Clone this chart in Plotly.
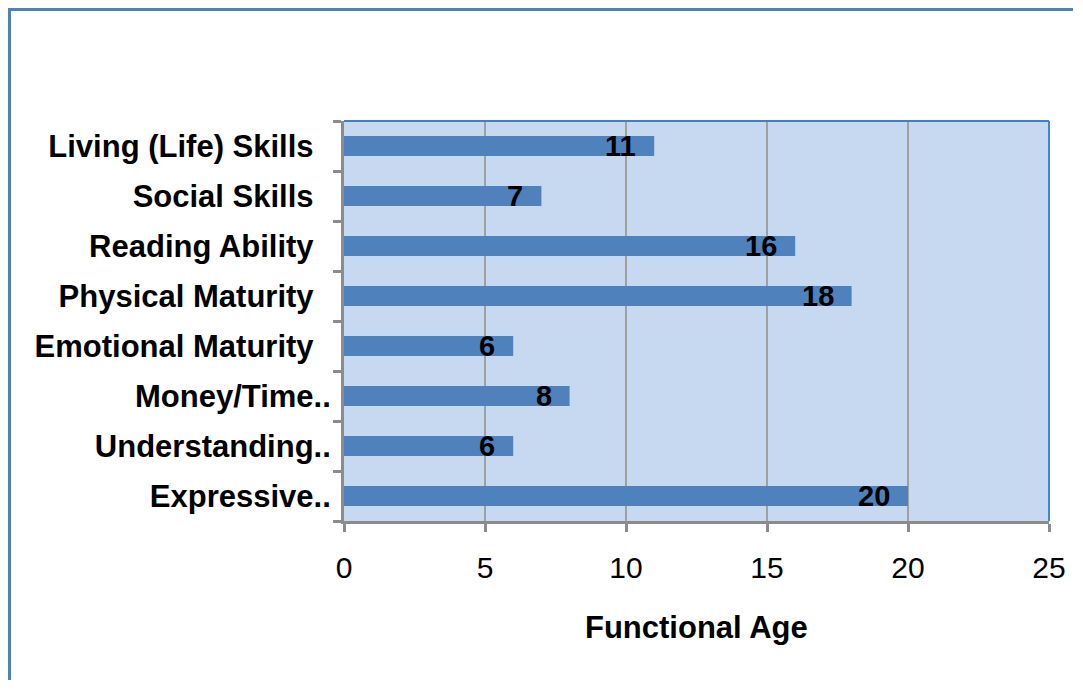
import plotly.graph_objects as go

categories = ["Living (Life) Skills", "Social Skills", "Reading Ability", "Physical Maturity",
              "Emotional Maturity", "Money/Time..", "Understanding..", "Expressive.."]
label_suffix = ["\u00a0\u00a0", "\u00a0\u00a0", "\u00a0\u00a0", "\u00a0\u00a0", "\u00a0\u00a0", "", "", ""]
values = [11, 7, 16, 18, 6, 8, 6, 20]
x_ticks = [0, 5, 10, 15, 20, 25]
x_title = "Functional Age"

FONT = "Liberation Sans, Arial, sans-serif"
OFF = 8  # page body margin
W, H = 1083 - 2 * OFF - 2, 694 - 2 * OFF - 6
L, R, T, B = 344 - OFF, 1049 - OFF, 121 - OFF, 521 - OFF
pw, ph = R - L, B - T

def px(x):
    return (x - L) / pw

def py(y):
    return (B - y) / ph

fig = go.Figure()
fig.add_trace(go.Bar(
    y=categories, x=values, orientation="h",
    marker=dict(color="#4F81BD", line=dict(width=0)),
    hoverinfo="skip",
))

annotations = []
for c, v in zip(categories, values):
    annotations.append(dict(x=v, y=c, xref="x", yref="y", text="<b>%d</b>" % v, showarrow=False,
                            xanchor="right", yanchor="middle", xshift=-16,
                            font=dict(family=FONT, size=29, color="black")))
annotations.append(dict(x=0.5, y=py(627 - OFF), xref="paper", yref="paper", text="<b>%s</b>" % x_title,
                        showarrow=False, xanchor="center", yanchor="middle",
                        font=dict(family=FONT, size=31, color="black")))

shapes = [
    # outer chart border (left and top edges visible)
    dict(type="line", xref="paper", yref="paper", x0=px(1.5), x1=px(1.5), y0=py(720), y1=py(1.5),
         line=dict(color="#4F81BD", width=3)),
    dict(type="line", xref="paper", yref="paper", x0=px(0), x1=px(1200), y0=py(1.5), y1=py(1.5),
         line=dict(color="#4F81BD", width=3)),
    # plot-area top and right border
    dict(type="line", xref="paper", yref="paper", x0=0, x1=1, y0=1, y1=1,
         line=dict(color="#3F7FCB", width=2)),
    dict(type="line", xref="paper", yref="paper", x0=1, x1=1, y0=0, y1=1,
         line=dict(color="#3F88D8", width=2)),
]

fig.update_layout(
    width=W, height=H,
    autosize=False,
    margin=dict(l=L, r=W - R, t=T, b=H - B, pad=0, autoexpand=False),
    paper_bgcolor="white",
    plot_bgcolor="#C6D9F0",
    bargap=0.6,
    showlegend=False,
    annotations=annotations,
    shapes=shapes,
    xaxis=dict(
        range=[0, 25], tickvals=x_ticks, ticktext=[str(t) for t in x_ticks],
        automargin=False,
        showgrid=True, gridcolor="#A0A0A0", gridwidth=1.5,
        showline=True, linecolor="#8C8C8C", linewidth=3,
        ticks="outside", ticklen=8, tickwidth=3, tickcolor="#8C8C8C",
        ticklabelstandoff=10,
        tickfont=dict(family=FONT, size=30, color="black"),
        zeroline=False, fixedrange=True,
    ),
    yaxis=dict(
        autorange="reversed",
        automargin=False,
        tickmode="array", tickvals=categories,
        ticktext=["<b>%s%s</b>" % (c, s) for c, s in zip(categories, label_suffix)],
        tickson="boundaries",
        showgrid=False,
        showline=True, linecolor="#8C8C8C", linewidth=3,
        ticks="outside", ticklen=8, tickwidth=3, tickcolor="#8C8C8C",
        ticklabelstandoff=4,
        tickfont=dict(family=FONT, size=31, color="black"),
        zeroline=False, fixedrange=True,
    ),
)

fig.write_html("out.html")
